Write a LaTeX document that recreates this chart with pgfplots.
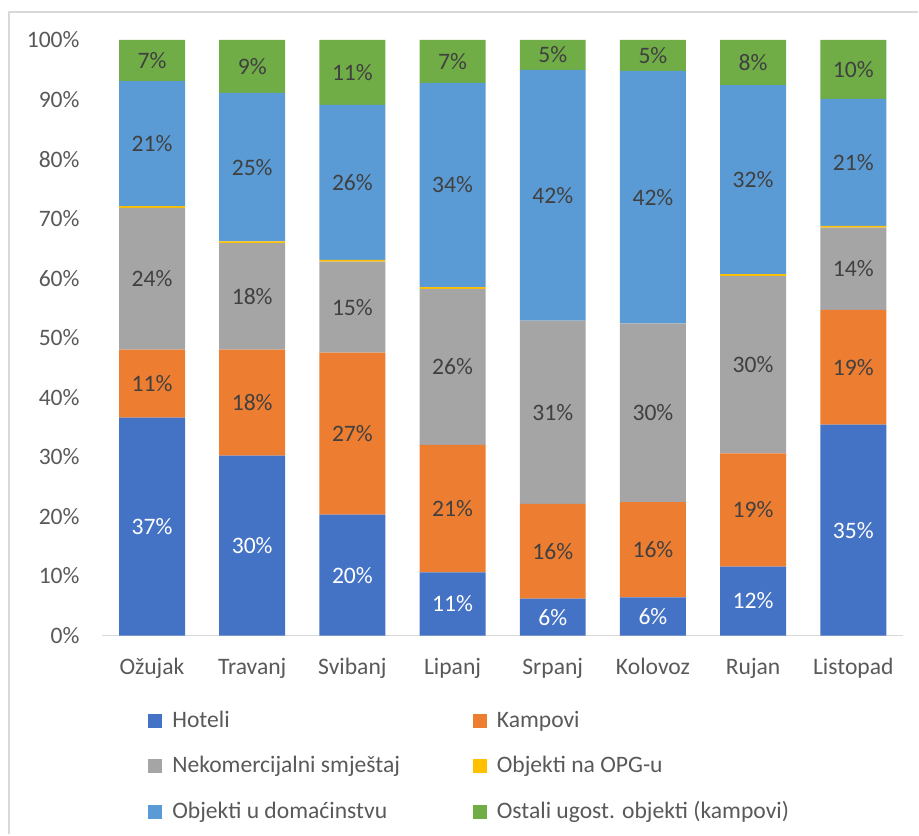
\documentclass[border=0pt]{standalone}
\usepackage{pgfplots}
\usepackage{pgfplotstable}
\pgfplotsset{compat=1.18}
\usepackage{fontspec}
\setmainfont{Carlito}

\definecolor{hotel}{HTML}{4472C4}
\definecolor{kamp}{HTML}{ED7D31}
\definecolor{nekom}{HTML}{A5A5A5}
\definecolor{opg}{HTML}{FFC000}
\definecolor{dom}{HTML}{5B9BD5}
\definecolor{ostali}{HTML}{70AD47}
\definecolor{ticktext}{HTML}{595959}
\definecolor{valtext}{HTML}{404040}
\definecolor{framegray}{HTML}{D9D9D9}

\newcommand{\chartfont}{\fontsize{11.8}{14}\selectfont}

% shares in %, bottom to top of each bar
\pgfplotstableread{
x hot  kamp nekom opg dom  ost
0 36.6 11.4 23.8 0.3 21.0 6.9
1 30.2 17.8 17.9 0.3 24.9 8.9
2 20.3 27.2 15.3 0.3 26.0 10.9
3 10.6 21.4 26.2 0.3 34.3 7.2
4 6.2  15.9 30.8 0.0 42.1 5.0
5 6.4  16.0 30.0 0.0 42.4 5.2
6 11.6 19.0 29.8 0.3 31.7 7.6
7 35.4 19.3 13.8 0.3 21.3 9.9
}\shares

\pgfplotsset{
  vals/.style={
    nodes near coords={\pgfmathprintnumber[fixed,precision=0]{\pgfplotspointmeta}\%},
    every node near coord/.append style={font=\chartfont, text=valtext, anchor=center},
  },
}

\begin{document}
\begin{tikzpicture}
\begin{axis}[
    scale only axis,
    width=401pt, height=298pt,
    ybar stacked,
    bar width=33pt,
    xmin=-0.5, xmax=7.5,
    ymin=0, ymax=100,
    clip=false,
    xtick={0,...,7},
    xticklabels={Ožujak,Travanj,Svibanj,Lipanj,Srpanj,Kolovoz,Rujan,Listopad},
    ytick={0,10,...,100},
    yticklabel={\pgfmathprintnumber{\tick}\%},
    /pgf/number format/assume math mode=true,
    axis line style={draw=none},
    major tick length=0pt,
    tick label style={font=\chartfont, text=ticktext},
    yticklabel style={anchor=east, inner sep=0pt, xshift=-11pt},
    xticklabel style={anchor=base, inner sep=0pt, yshift=-19.5pt},
    point meta=explicit,
    legend columns=2,
    legend cell align=left,
    legend image code/.code={\fill[#1] (0pt,-3.5pt) rectangle (7pt,3.5pt);},
    legend style={
      at={(axis description cs:0.0574,-0.119)}, anchor=north west,
      draw=none, fill=none, inner sep=0pt,
      font=\chartfont, text=ticktext,
      row sep=9pt,
      /tikz/every odd column/.append style={column sep=3pt},
      /tikz/every even column/.append style={column sep=34.5pt},
    },
]
\addplot[fill=hotel, draw=none, vals, every node near coord/.append style={text=white}]
  table[x=x, y=hot, meta=hot] {\shares};
\addlegendentry{Hoteli}
\addplot[fill=kamp, draw=none, vals] table[x=x, y=kamp, meta=kamp] {\shares};
\addlegendentry{Kampovi}
\addplot[fill=nekom, draw=none, vals] table[x=x, y=nekom, meta=nekom] {\shares};
\addlegendentry{Nekomercijalni smještaj}
\addplot[fill=opg, draw=none] table[x=x, y=opg, meta=opg] {\shares};
\addlegendentry{Objekti na OPG-u}
\addplot[fill=dom, draw=none, vals] table[x=x, y=dom, meta=dom] {\shares};
\addlegendentry{Objekti u domaćinstvu}
\addplot[fill=ostali, draw=none, vals] table[x=x, y=ost, meta=ost] {\shares};
\addlegendentry{Ostali ugost. objekti (kampovi)}
\draw[framegray, line width=0.8pt] (axis cs:-0.5,0) -- (axis cs:7.5,0);
\end{axis}
\path (-51pt,-99.5pt) rectangle (408.5pt,318pt);
\draw[framegray, line width=0.6pt] (-46.5pt,-99.5pt) -- (-46.5pt,312pt) -- (408.5pt,312pt);
\end{tikzpicture}
\end{document}
